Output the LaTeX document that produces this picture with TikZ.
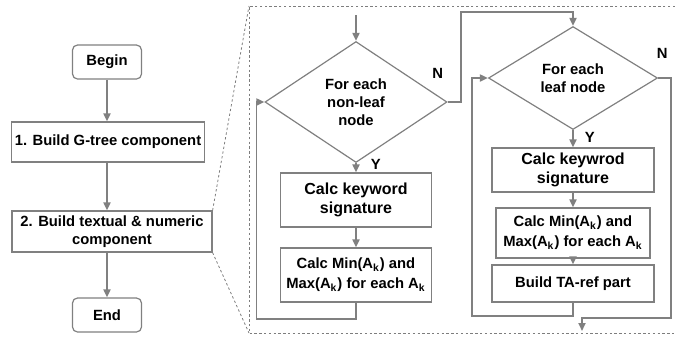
\documentclass[tikz,border=0pt]{standalone}
\usepackage{fontspec}
\setmainfont{Liberation Sans}
\usetikzlibrary{shapes.geometric,arrows.meta}
\definecolor{linegray}{RGB}{128,128,128}
\definecolor{framegray}{RGB}{125,125,125}

\begin{document}
\begin{tikzpicture}[
    x=0.5pt, y=-0.5pt,
    txt/.style={font=\fontsize{7.4}{9}\selectfont\bfseries},
    box/.style={rectangle, draw=linegray, line width=0.6pt, align=center, inner sep=1pt, txt},
    term/.style={box, rounded corners=2.5pt, minimum width=34.5pt, minimum height=17pt},
    cond/.style={diamond, draw=linegray, line width=0.6pt, aspect=1.5, inner sep=0pt, align=center, txt},
    arrow/.style={-{Triangle[length=4pt,width=3.5pt]}, draw=linegray, line width=0.9pt},
    frame/.style={draw=framegray, line width=0.4pt, dash pattern=on 1.2pt off 1.2pt},
    lbl/.style={txt, inner sep=0pt}
]
\useasboundingbox (0,0) rectangle (675,339);

% overall steps
\node[term] (begin) at (107,62) {Begin};
\node[box, minimum width=96.5pt, minimum height=20pt] (gtree) at (108,142) {1. Build G-tree component};
\node[box, minimum width=100pt, minimum height=20.5pt] (textual) at (112,231.5) {2. Build textual \& numeric\\component};
\node[term] (end) at (107,315) {End};

\draw[arrow] (begin) -- (begin |- gtree.north);
\draw[arrow] (begin |- gtree.south) -- (begin |- textual.north);
\draw[arrow] (begin |- textual.south) -- (end);

% zoom frame for step 2
\draw[frame] (675,6) -- (249,6) -- (249,333) -- (675,333);
\draw[frame] (textual.north east) -- (249,6);
\draw[frame] (textual.south east) -- (249,333);

% non-leaf loop
\coordinate (in1) at (356,15);
\node[cond, minimum width=91pt, minimum height=60.5pt] (d1) at (356,102) {For each\\non-leaf\\node};
\node[box, minimum width=75.5pt, minimum height=27pt, font=\fontsize{8}{9.5}\selectfont\bfseries] (calc1) at (356,200) {Calc keyword\\signature};
\node[box, minimum width=75.5pt, minimum height=27pt, font=\fontsize{7.4}{10}\selectfont\bfseries] (minmax1) at (356,275) {Calc Min(A\textsubscript{k}) and\\Max(A\textsubscript{k}) for each A\textsubscript{k}};

\draw[arrow] (in1) -- (d1.north);
\draw[arrow] (d1.south) -- node[lbl, right=7pt, pos=0.15] {Y} (calc1.north);
\draw[arrow] (calc1) -- (minmax1);
\draw[arrow] (minmax1.south) -- ++(0,16) -| ([xshift=-4pt]d1.west) -- (d1.west);

% leaf loop
\node[cond, minimum width=84.5pt, minimum height=51.5pt] (d2) at (573,78) {For each\\leaf node};
\node[box, minimum width=81pt, minimum height=22pt, font=\fontsize{8}{9.5}\selectfont\bfseries] (calc2) at (573,170) {Calc keywrod\\signature};
\node[box, minimum width=77pt, minimum height=25pt, font=\fontsize{7.4}{10}\selectfont\bfseries] (minmax2) at (573,233) {Calc Min(A\textsubscript{k}) and\\Max(A\textsubscript{k}) for each A\textsubscript{k}};
\node[box, minimum width=81pt, minimum height=18.5pt] (taref) at (573,283.5) {Build TA-ref part};
\coordinate (out2) at (582,331);

\draw[arrow] (d1.east) node[lbl, xshift=-5pt, yshift=14.5pt] {N} -- ++(13,0) |- ([yshift=7pt]d2.north) -- (d2.north);
\draw[arrow] (d2.south) -- node[lbl, right=5.5pt, pos=0.45] {Y} (calc2.north);
\draw[arrow] (calc2) -- (minmax2);
\draw[arrow] (minmax2) -- (taref);
\draw[arrow] (taref.south) -- ++(0,13) -| ([xshift=-8pt]d2.west) -- (d2.west);
\draw[arrow] (d2.east) node[lbl, xshift=2pt, yshift=12.5pt] {N} -- ++(13,0) |- ([yshift=6.5pt]out2) -- (out2);
\end{tikzpicture}
\end{document}
